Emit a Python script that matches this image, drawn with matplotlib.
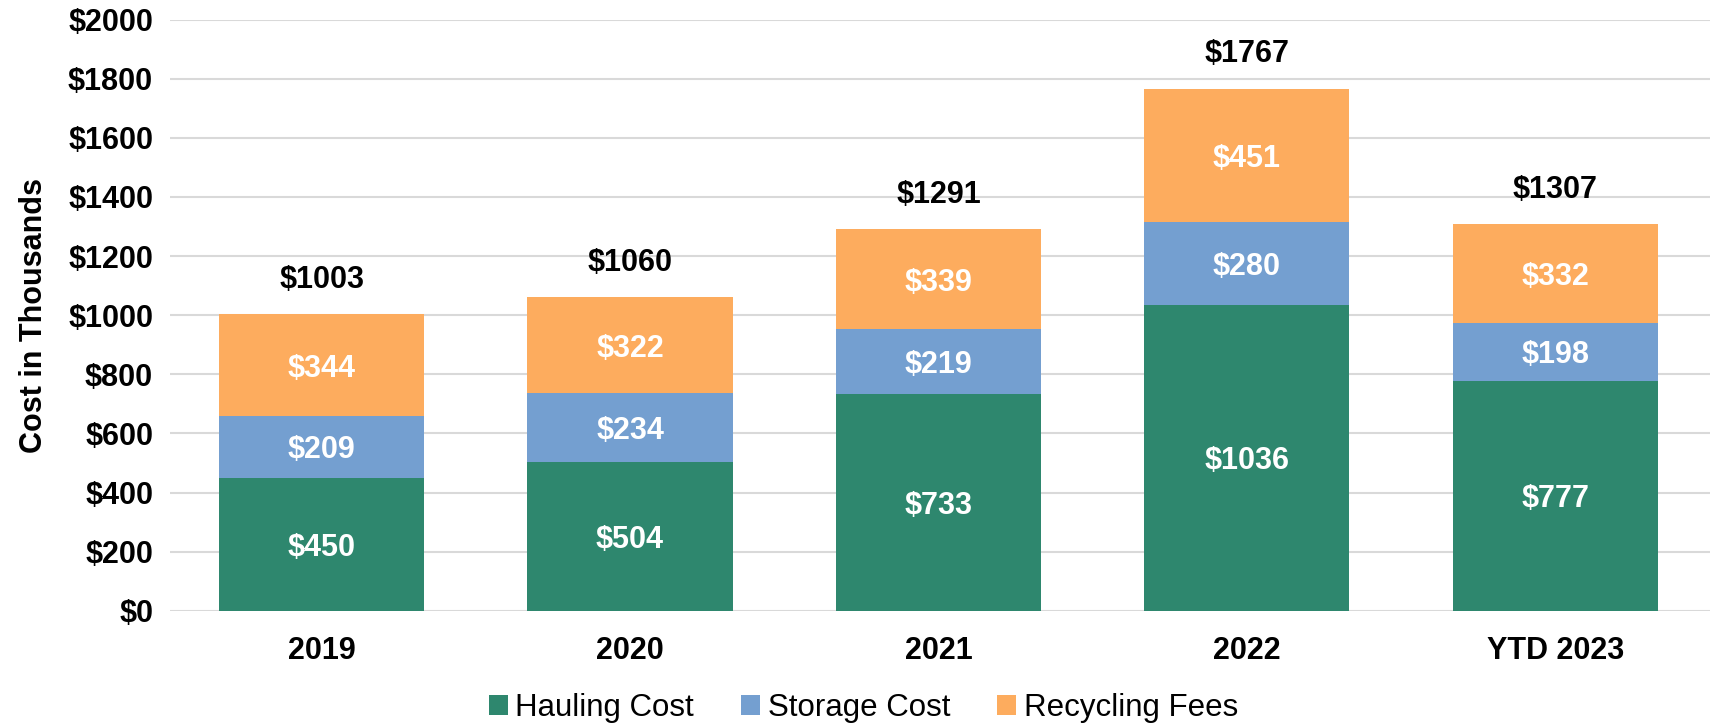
import matplotlib
matplotlib.use("Agg")
import matplotlib.pyplot as plt
import numpy as np

categories = ["2019", "2020", "2021", "2022", "YTD 2023"]
hauling = [450, 504, 733, 1036, 777]
storage = [209, 234, 219, 280, 198]
recycling = [344, 322, 339, 451, 332]
series_names = ["Hauling Cost", "Storage Cost", "Recycling Fees"]
colors = ["#2E876E", "#749FD0", "#FDAC5E"]
yticks = list(range(0, 2001, 200))

plt.rcParams['font.family'] = ['Liberation Sans', 'DejaVu Sans']

fig = plt.figure(figsize=(17.13, 7.28), dpi=100)
ax = fig.add_axes([0.0995, 0.161, 0.8985, 0.812])

x = np.arange(len(categories))
width = 0.665
bottom = np.zeros(len(categories))
for vals, name, col in zip([hauling, storage, recycling], series_names, colors):
    vals = np.array(vals)
    ax.bar(x, vals, width, bottom=bottom, color=col, label=name, zorder=2)
    for xi, b, v in zip(x, bottom, vals):
        ax.annotate(f"${v}", (xi, b + v / 2), xytext=(0, -2.5), textcoords="offset points",
                    ha="center", va="center", color="white",
                    fontsize=22, fontweight="bold", zorder=3)
    bottom = bottom + vals

for xi, t in zip(x, bottom):
    ax.annotate(f"${int(t)}", (xi, t), xytext=(0, 24.5), textcoords="offset points",
                ha="center", va="center", fontsize=22, fontweight="bold", color="black")

ax.set_xlim(-0.49, 4.5)
ax.set_ylim(0, 2000)
ax.set_yticks(yticks)
ax.set_yticklabels([f"${v}" for v in yticks], fontsize=22, fontweight="bold")
ax.set_xticks(x)
ax.set_xticklabels(categories, fontsize=22, fontweight="bold")
ax.tick_params(axis="both", length=0)
ax.tick_params(axis="y", pad=12.5)
ax.tick_params(axis="x", pad=18)
ax.grid(axis="y", color="#D9D9D9", linewidth=1.5, zorder=0)
ax.set_axisbelow(True)
for s in ax.spines.values():
    s.set_visible(False)
ax.set_ylabel("Cost in Thousands", fontsize=22, fontweight="bold")
ax.yaxis.set_label_coords(-0.079, 0.5)

fig.legend(loc="center", bbox_to_anchor=(0.504, 0.028), ncol=3, frameon=False,
           fontsize=22.5, handlelength=0.6, handleheight=0.6, handletextpad=0.25,
           columnspacing=1.5)

fig.savefig("out.png", dpi=100)
